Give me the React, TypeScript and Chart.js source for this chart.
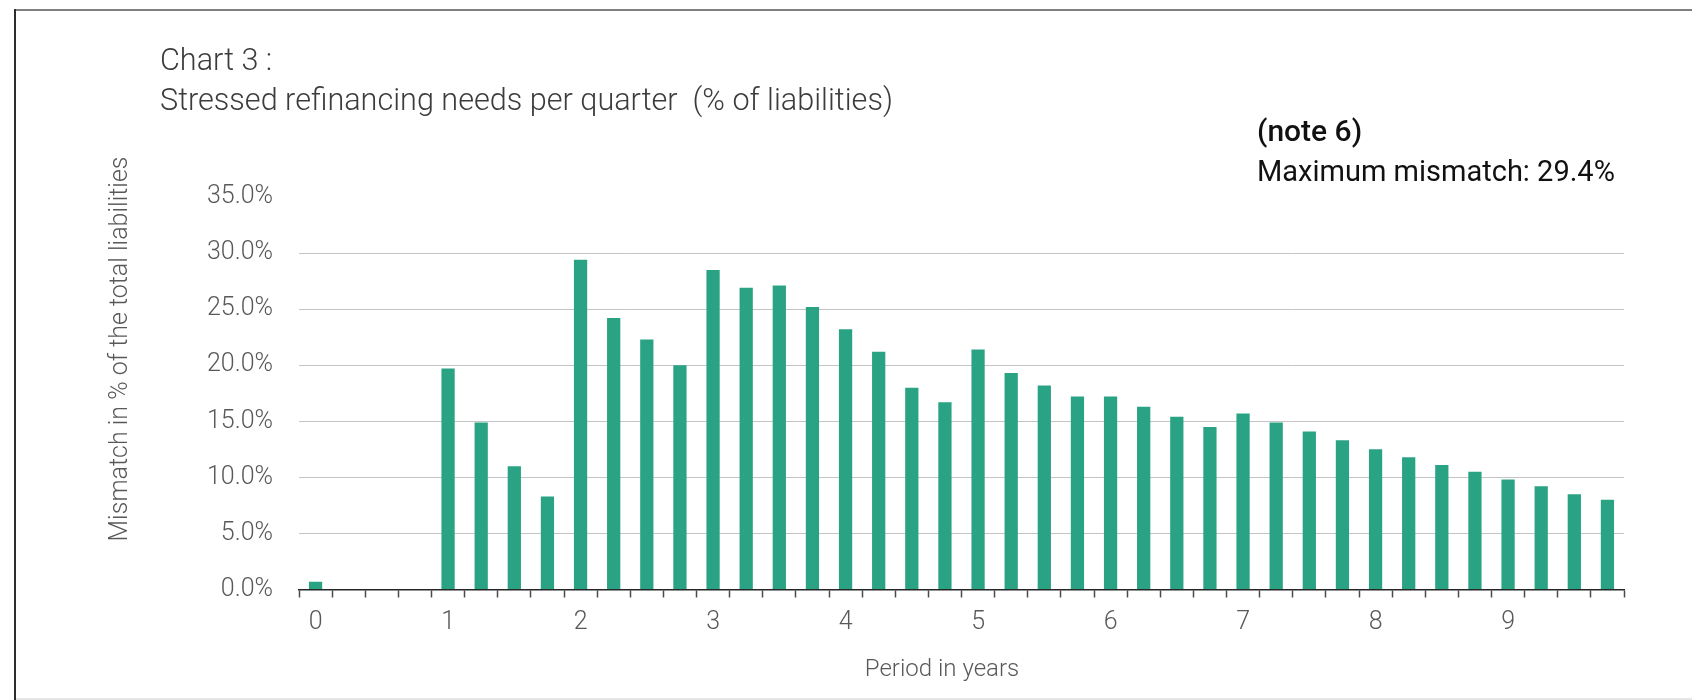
import React, { useEffect, useRef } from 'react';
import { Chart, registerables } from 'chart.js';

Chart.register(...registerables);

const quarters = [
  '0', '0.25', '0.5', '0.75', '1', '1.25', '1.5', '1.75', '2', '2.25',
  '2.5', '2.75', '3', '3.25', '3.5', '3.75', '4', '4.25', '4.5', '4.75',
  '5', '5.25', '5.5', '5.75', '6', '6.25', '6.5', '6.75', '7', '7.25',
  '7.5', '7.75', '8', '8.25', '8.5', '8.75', '9', '9.25', '9.5', '9.75',
];

const yearLabels = ['0', '1', '2', '3', '4', '5', '6', '7', '8', '9'];

const mismatch = [
  0.7, 0, 0, 0, 19.7, 14.9, 11.0, 8.3, 29.4, 24.2,
  22.3, 20.0, 28.5, 26.9, 27.1, 25.2, 23.2, 21.2, 18.0, 16.7,
  21.4, 19.3, 18.2, 17.2, 17.2, 16.3, 15.4, 14.5, 15.7, 14.9,
  14.1, 13.3, 12.5, 11.8, 11.1, 10.5, 9.8, 9.2, 8.5, 8.0,
];

const yTickValues = [0, 5, 10, 15, 20, 25, 30, 35];

const titleLines = ['Chart 3 :', 'Stressed refinancing needs per quarter  (% of liabilities)'];
const noteLine = '(note 6)';
const maxLine = 'Maximum mismatch: 29.4%';
const yTitle = 'Mismatch in % of the total liabilities';
const xTitle = 'Period in years';

const FONT = 'Roboto';

const overlayPlugin = {
  id: 'overlay',
  afterDraw(chart: any) {
    const ctx = chart.ctx as CanvasRenderingContext2D;
    const W = chart.width;
    const H = chart.height;
    ctx.save();
    // frame
    ctx.fillStyle = '#808080';
    ctx.fillRect(15, 9, W - 15, 2);
    ctx.fillStyle = '#2e2e2e';
    ctx.fillRect(14, 9, 2, H - 9);
    ctx.fillStyle = '#e6e6e6';
    ctx.fillRect(16, H - 2, W - 16, 2);

    // title
    ctx.textAlign = 'left';
    ctx.textBaseline = 'middle';
    ctx.fillStyle = '#3c3c3c';
    ctx.font = `300 30.6px ${FONT}`;
    ctx.fillText(titleLines[0], 160, 62);
    ctx.fillText(titleLines[1], 160, 102);

    // note
    ctx.fillStyle = '#111111';
    ctx.font = `500 30px ${FONT}`;
    ctx.fillText(noteLine, 1257, 133);
    ctx.font = `400 29px ${FONT}`;
    ctx.fillText(maxLine, 1257, 174);

    // axis titles
    ctx.fillStyle = '#595959';
    ctx.textAlign = 'center';
    ctx.font = `300 24px ${FONT}`;
    ctx.fillText(xTitle, 942, 670);

    ctx.translate(121, 349);
    ctx.rotate(-Math.PI / 2);
    ctx.font = `300 25px ${FONT}`;
    ctx.fillText(yTitle, 0, 0);
    ctx.restore();
  },
};

export default function App() {
  const ref = useRef<HTMLCanvasElement | null>(null);

  useEffect(() => {
    document.body.style.margin = '0';
    const canvas = ref.current;
    if (!canvas) return;
    const chart = new Chart(canvas, {
      type: 'bar',
      data: {
        labels: quarters,
        datasets: [
          {
            data: mismatch,
            backgroundColor: '#29a383',
            borderWidth: 0,
            barPercentage: 0.4,
            categoryPercentage: 1.0,
          },
        ],
      },
      plugins: [overlayPlugin],
      options: {
        responsive: false,
        animation: false,
        devicePixelRatio: 1,
        layout: { padding: { left: 199, right: 68, top: 197, bottom: 50 } },
        plugins: {
          legend: { display: false },
          tooltip: { enabled: false },
          title: { display: false },
        },
        scales: {
          x: {
            type: 'category',
            offset: true,
            afterFit: (scale: any) => {
              scale.height = 60.5;
            },
            border: { display: true, color: '#262626', width: 1.5 },
            grid: {
              display: true,
              offset: true,
              drawOnChartArea: false,
              drawTicks: true,
              tickLength: 8,
              tickColor: '#4a4a4a',
              tickWidth: 1.5,
            },
            ticks: {
              autoSkip: false,
              maxRotation: 0,
              minRotation: 0,
              padding: 10,
              color: '#595959',
              font: { family: FONT, size: 25, weight: '300' },
              callback: (_v: any, i: number) => (i % 4 === 0 ? yearLabels[i / 4] : ''),
            },
          },
          y: {
            min: 0,
            max: 35,
            afterFit: (scale: any) => {
              scale.width = 100;
            },
            afterBuildTicks: (scale: any) => {
              scale.ticks = yTickValues.map((v) => ({ value: v }));
            },
            border: { display: false },
            grid: {
              drawTicks: false,
              lineWidth: 1,
              color: (c: any) =>
                c.tick && (c.tick.value === 35 || c.tick.value === 0) ? 'rgba(0,0,0,0)' : '#c4c4c4',
            },
            ticks: {
              padding: 26,
              color: '#595959',
              font: { family: FONT, size: 25, weight: '300' },
              callback: (v: any) => Number(v).toFixed(1) + '%',
            },
          },
        },
      },
    });
    return () => chart.destroy();
  }, []);

  return <canvas ref={ref} width={1692} height={700} style={{ display: 'block' }} />;
}
